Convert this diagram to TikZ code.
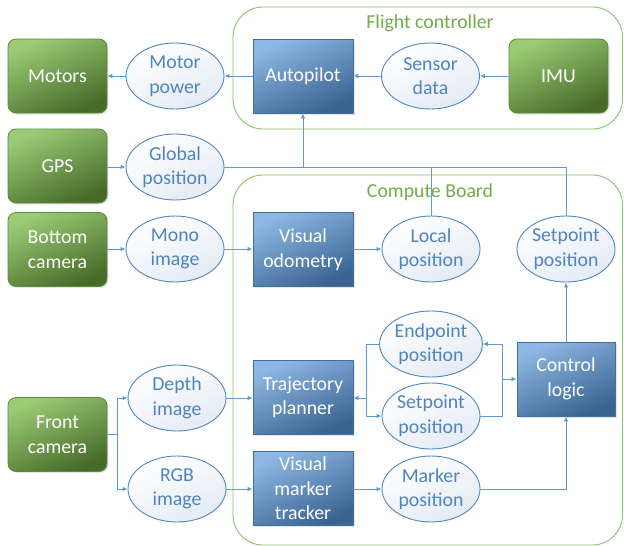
\documentclass[tikz,border=0pt]{standalone}
\usepackage{fontspec}
\setmainfont{Carlito}
\usetikzlibrary{arrows.meta,shadows,shapes.geometric}
\definecolor{gL}{HTML}{9BCB75}
\definecolor{gD}{HTML}{466B28}
\definecolor{gB}{HTML}{5E8A3B}
\definecolor{bL}{HTML}{8DB8E3}
\definecolor{bD}{HTML}{3A6391}
\definecolor{bB}{HTML}{41709F}
\definecolor{eB}{HTML}{5186C2}
\definecolor{eT}{HTML}{4E84C0}
\definecolor{eF}{HTML}{E4EBF5}
\definecolor{ln}{HTML}{5B9BD5}
\definecolor{cont}{HTML}{8CC26A}
\definecolor{contT}{HTML}{70AD47}
\tikzset{
  gbox/.style={rectangle, rounded corners=8pt, draw=gB, line width=0.8pt,
    top color=gL, bottom color=gD, shading angle=25,
    minimum width=99pt, minimum height=74pt, text=white, align=center, inner sep=0pt,
    drop shadow={opacity=0.2, shadow xshift=1.5pt, shadow yshift=-1.5pt}},
  bbox/.style={rectangle, draw=bB, line width=0.8pt,
    top color=bL, bottom color=bD, shading angle=25,
    minimum width=100pt, minimum height=74pt, text=white, align=center, inner sep=0pt,
    drop shadow={opacity=0.2, shadow xshift=1.5pt, shadow yshift=-1.5pt}},
  ell/.style={ellipse, draw=eB, line width=0.9pt,
    top color=white, bottom color=eF, shading angle=25,
    minimum width=98pt, minimum height=66pt, text=eT, align=center, inner sep=0pt},
  container/.style={rectangle, rounded corners=30pt, draw=cont, line width=0.9pt, inner sep=0pt},
  ctitle/.style={text=contT, inner sep=0pt},
  conn/.style={draw=ln, line width=0.9pt, -{Latex[length=5pt,width=4.5pt]}},
  plainline/.style={draw=ln, line width=0.9pt}
}
\begin{document}
\begin{tikzpicture}[x=1pt,y=-1pt,font=\fontsize{19.8}{24.5}\selectfont]
\useasboundingbox (0,0) rectangle (624,546);
% containers
\node[container, minimum width=389.5pt, minimum height=122pt] (fcbox) at (427.75,68) {};
\node[container, minimum width=389.5pt, minimum height=370pt] (cbbox) at (427.75,360) {};
\node[ctitle] (fctitle) at (430,23) {Flight controller};
\node[ctitle] (cbtitle) at (430,192) {Compute Board};
% green boxes
\node[gbox] (motors) at (57.5,76) {Motors};
\node[gbox] (gps) at (57.5,166) {GPS};
\node[gbox] (bcam) at (57.5,249.5) {Bottom\\camera};
\node[gbox] (fcam) at (57.5,434.5) {Front\\camera};
\node[gbox] (imu) at (558.5,76) {IMU};
% blue boxes
\node[bbox] (auto) at (303,76) {Autopilot};
\node[bbox] (vo) at (303,249.5) {Visual\\odometry};
\node[bbox] (tp) at (303,397.5) {Trajectory\\planner};
\node[bbox] (vmt) at (303,488.5) {Visual\\marker\\tracker};
\node[bbox, minimum width=98pt] (cl) at (566,379) {Control\\logic};
% ellipses
\node[ell] (mp) at (175,76) {Motor\\power};
\node[ell] (gp) at (175,167) {Global\\position};
\node[ell] (mono) at (175,249) {Mono\\image};
\node[ell] (depth) at (177,398) {Depth\\image};
\node[ell] (rgb) at (177,489) {RGB\\image};
\node[ell] (sd) at (430.5,76) {Sensor\\data};
\node[ell] (lp) at (431,249) {Local\\position};
\node[ell] (spa) at (566,249) {Setpoint\\position};
\node[ell] (ep) at (431,344) {Endpoint\\position};
\node[ell] (spb) at (431,416) {Setpoint\\position};
\node[ell] (mk) at (431,489) {Marker\\position};
% coordinates
\coordinate (fsplit) at (117,434.5);
\coordinate (jl) at (366,398);
\coordinate (jr) at (502,379);
% connectors
\draw[conn] (auto.west) -- (mp.east);
\draw[conn] (mp.west) -- (motors.east);
\draw[conn] (imu.west) -- (sd.east);
\draw[conn] (sd.west) -- (auto.east);
\draw[conn] (gps.east |- gp.west) -- (gp.west);
\draw[plainline] (gp.east) -- (gp.east -| spa.north) -- (spa.north);
\draw[plainline] (lp.north) -- (lp.north |- gp.east);
\draw[conn] (auto.south |- gp.east) -- (auto.south);
\draw[conn] (bcam.east |- mono.west) -- (mono.west);
\draw[conn] (mono.east) -- (mono.east -| vo.west);
\draw[conn] (vo.east |- lp.west) -- (lp.west);
\draw[plainline] (fcam.east) -- (fsplit);
\draw[conn] (fsplit) |- (depth.west);
\draw[conn] (fsplit) |- (rgb.west);
\draw[conn] (depth.east) -- (depth.east -| tp.west);
\draw[conn] (rgb.east) -- (rgb.east -| vmt.west);
\draw[conn] (vmt.east |- mk.west) -- (mk.west);
\draw[conn] (mk.east) -| (cl.south);
\draw[conn] (cl.north) -- (spa.south);
\draw[conn] (ep.west) -- (ep.west -| jl) -- (jl |- spb.west) -- (spb.west);
\draw[conn] (jl) -- (jl -| tp.east);
\draw[conn] (spb.east) -- (spb.east -| jr) -- (jr |- ep.east) -- (ep.east);
\draw[conn] (jr |- cl.west) -- (cl.west);
\end{tikzpicture}
\end{document}
